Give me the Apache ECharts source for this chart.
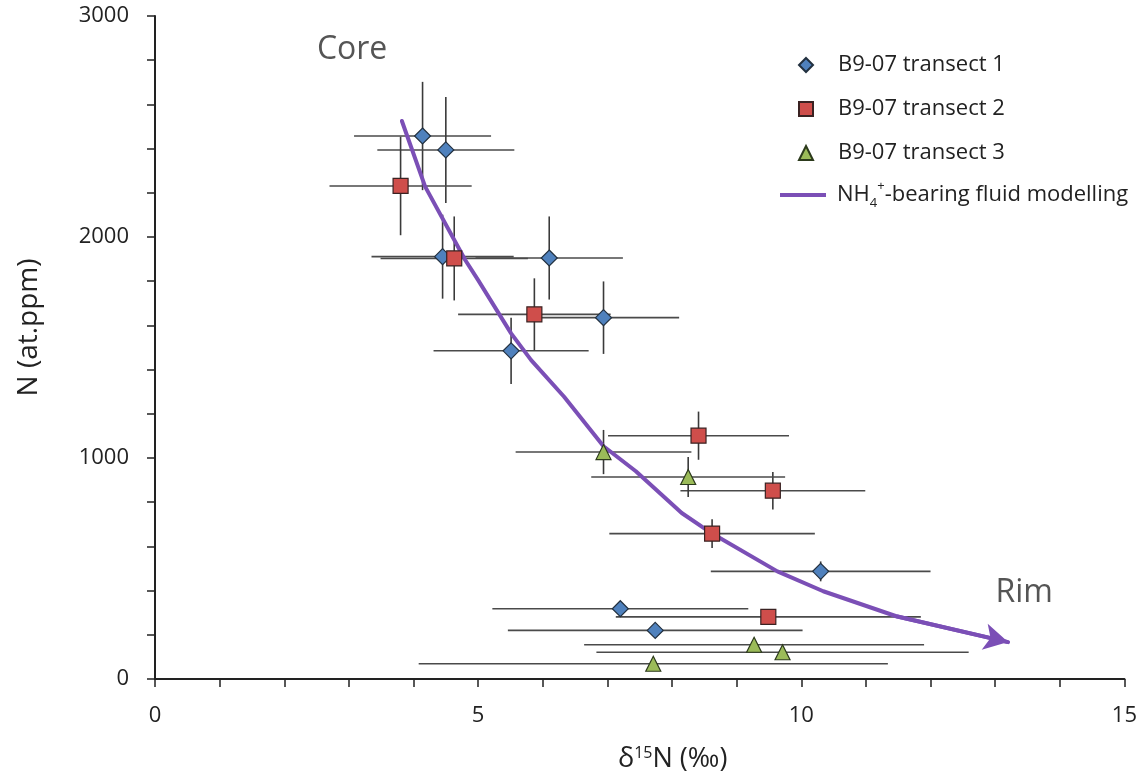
<!DOCTYPE html>
<html>
<head>
<meta charset="utf-8">
<title>N vs δ15N</title>
<script src="https://cdn.jsdelivr.net/npm/echarts@6/dist/echarts.min.js"></script>
<style>
  html, body { margin: 0; padding: 0; background: #fff; }
  #chart { width: 1140px; height: 783px; }
</style>
</head>
<body>
<div id="chart"></div>
<script>
// Transect 1 (diamonds): δ15N, N, and their ±1σ uncertainties
const t1X    = [4.14, 4.50, 4.45, 6.10, 6.94, 5.51, 10.30, 7.20, 7.74];
const t1Y    = [2457, 2394, 1911, 1905, 1635, 1485, 487, 318, 220];
const t1XErr = [1.06, 1.06, 1.10, 1.14, 1.17, 1.20, 1.70, 1.98, 2.28];
const t1YErr = [245, 240, 190, 188, 164, 150, 45, 0, 0];

// Transect 2 (squares)
const t2X    = [3.80, 4.63, 5.87, 8.41, 9.56, 8.62, 9.49];
const t2Y    = [2231, 1903, 1650, 1101, 852, 658, 281];
const t2XErr = [1.10, 1.14, 1.18, 1.40, 1.43, 1.59, 2.36];
const t2YErr = [223, 190, 163, 109, 85, 65, 0];

// Transect 3 (triangles)
const t3X    = [6.94, 8.25, 9.27, 9.71, 7.71];
const t3Y    = [1027, 914, 155, 121, 69];
const t3XErr = [1.36, 1.50, 2.63, 2.88, 3.63];
const t3YErr = [100, 90, 0, 0, 0];

// NH4+-bearing fluid model trajectory (core -> rim)
const modelX = [3.82, 4.18, 4.80, 5.00, 5.51, 5.82, 6.33, 6.94, 7.44, 8.15, 8.62, 9.63, 10.34, 11.47, 13.20];
const modelY = [2525, 2228, 1896, 1805, 1564, 1443, 1277, 1053, 940, 751, 658, 487, 397, 284, 167];

// Text annotations anchored in data space
const noteText = ['Core', 'Rim'];
const noteX = [3.05, 13.45];
const noteY = [2846, 389];

const seriesNames = ['B9-07 transect 1', 'B9-07 transect 2', 'B9-07 transect 3', 'NH4+-bearing fluid modelling'];

const zip = (...cols) => cols[0].map((_, i) => cols.map(c => c[i]));

const t1 = zip(t1X, t1Y, t1XErr, t1YErr);
const t2 = zip(t2X, t2Y, t2XErr, t2YErr);
const t3 = zip(t3X, t3Y, t3XErr, t3YErr);
const allErr = t1.concat(t2, t3);
const model = zip(modelX, modelY);
const notes = noteText.map((t, i) => ({ value: [noteX[i], noteY[i]], name: t }));

const FONT = 'Open Sans, Lato, sans-serif';
const INK = '#222';
const edge = '#22303f';

function errorBars(params, api) {
  const x = api.value(0), y = api.value(1), ex = api.value(2), ey = api.value(3);
  const children = [];
  const l = api.coord([x - ex, y]), r = api.coord([x + ex, y]);
  children.push({
    type: 'line',
    shape: { x1: l[0], y1: l[1], x2: r[0], y2: r[1] },
    style: { stroke: '#4a4a4a', lineWidth: 1.6 }
  });
  if (ey > 0) {
    const t = api.coord([x, y + ey]), b = api.coord([x, y - ey]);
    children.push({
      type: 'line',
      shape: { x1: t[0], y1: t[1], x2: b[0], y2: b[1] },
      style: { stroke: '#3a3a3a', lineWidth: 1.6 }
    });
  }
  return { type: 'group', children };
}

const chart = echarts.init(document.getElementById('chart'), null, { renderer: 'canvas' });

const last = model.length - 1;

chart.setOption({
  animation: false,
  backgroundColor: '#ffffff',
  grid: { left: 155, right: 10, top: 16, bottom: 104, containLabel: false },
  xAxis: {
    type: 'value', min: 0, max: 15, interval: 1,
    name: 'δ{sup|15}N (‰)',
    nameLocation: 'middle', nameGap: 66,
    nameTextStyle: {
      fontFamily: FONT, fontSize: 27, color: INK, padding: [0, 0, 0, 66],
      rich: { sup: { fontSize: 16, verticalAlign: 'top', padding: [0, 0, 12, 0], fontFamily: FONT, color: INK } }
    },
    axisLine: { onZero: false, lineStyle: { color: INK, width: 2 } },
    axisTick: { length: 8, lineStyle: { color: INK, width: 1.5 } },
    axisLabel: {
      margin: 26, fontFamily: FONT, fontSize: 22, color: INK,
      formatter: v => (v % 5 === 0 ? String(v) : '')
    },
    splitLine: { show: false }
  },
  yAxis: {
    type: 'value', min: 0, max: 3000, interval: 200,
    name: 'N (at.ppm)',
    nameLocation: 'middle', nameGap: 112, nameRotate: 90,
    nameTextStyle: { fontFamily: FONT, fontSize: 28, color: INK, padding: [0, 0, 0, 40] },
    axisLine: { onZero: false, lineStyle: { color: INK, width: 2 } },
    axisTick: { length: 8, lineStyle: { color: INK, width: 1.5 } },
    axisLabel: {
      margin: 26, fontFamily: FONT, fontSize: 22, color: INK,
      formatter: v => (v % 1000 === 0 ? String(v) : '')
    },
    splitLine: { show: false }
  },
  legend: [
    {
      orient: 'vertical', left: 793, top: 46,
      itemWidth: 14, itemHeight: 14, itemGap: 16,
      data: seriesNames.slice(0, 3),
      textStyle: { fontFamily: FONT, fontSize: 22, color: INK, lineHeight: 28, padding: [0, 0, 0, 20] },
      selectedMode: false
    },
    {
      orient: 'vertical', left: 775, top: 175,
      itemWidth: 46, itemHeight: 4,
      data: [{ name: seriesNames[3], icon: 'rect' }],
      formatter: () => '{a|NH}{s|4}{p|+}{a|-bearing fluid modelling}',
      textStyle: {
        fontFamily: FONT, fontSize: 22, color: INK, padding: [0, 0, 0, 6],
        rich: {
          a: { fontFamily: FONT, fontSize: 22, color: INK, lineHeight: 30 },
          s: { fontFamily: FONT, fontSize: 13, color: INK, lineHeight: 30, verticalAlign: 'bottom' },
          p: { fontFamily: FONT, fontSize: 13, color: INK, lineHeight: 30, verticalAlign: 'top' }
        }
      },
      selectedMode: false
    }
  ],
  series: [
    {
      type: 'custom', name: 'error bars', data: allErr,
      renderItem: errorBars, encode: { x: 0, y: 1 }, z: 1, silent: true
    },
    {
      type: 'line', name: seriesNames[3], data: model,
      smooth: false, showSymbol: false, symbol: 'none',
      color: '#7b4fb6',
      lineStyle: { color: '#7b4fb6', width: 4, cap: 'round', join: 'round' },
      z: 2, silent: true,
      markLine: {
        silent: true, symbol: ['none', 'arrow'], symbolSize: [20, 24],
        label: { show: false },
        lineStyle: { color: '#7b4fb6', width: 4, type: 'solid' },
        data: [[{ coord: model[last - 1] }, { coord: model[last] }]]
      }
    },
    {
      type: 'scatter', name: seriesNames[0], data: zip(t1X, t1Y),
      symbol: 'diamond', symbolSize: 16, z: 5,
      itemStyle: { color: '#4f81bd', borderColor: edge, borderWidth: 1.2, opacity: 1 }
    },
    {
      type: 'scatter', name: seriesNames[1], data: zip(t2X, t2Y),
      symbol: 'rect', symbolSize: 15, z: 5,
      itemStyle: { color: '#cf4e4b', borderColor: '#3a2222', borderWidth: 1.2, opacity: 1 }
    },
    {
      type: 'scatter', name: seriesNames[2], data: zip(t3X, t3Y),
      symbol: 'triangle', symbolSize: [15, 15], z: 5,
      itemStyle: { color: '#9bbb59', borderColor: '#2c3a1c', borderWidth: 1.2, opacity: 1 }
    },
    {
      type: 'scatter', name: 'notes', data: notes,
      symbolSize: 0, silent: true, z: 6,
      label: {
        show: true, position: 'inside', formatter: p => p.name,
        fontFamily: FONT, fontSize: 32, color: '#2a2a2a'
      }
    }
  ]
});
</script>
</body>
</html>
